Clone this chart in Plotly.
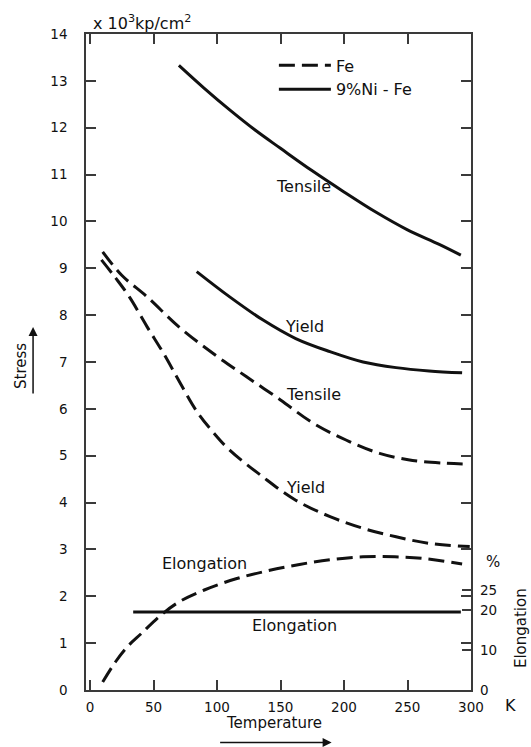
import plotly.graph_objects as go

# Temperature (K) and stress (x10^3 kp/cm^2) for pure iron
fe_tensile_T = [10, 25, 45, 70, 97, 123, 150, 176, 202, 228, 254, 280, 299]
fe_tensile = [9.35, 8.85, 8.39, 7.75, 7.18, 6.69, 6.19, 5.69, 5.33, 5.05, 4.90, 4.84, 4.82]
fe_yield_T = [9, 20, 31, 45, 58, 70, 84, 97, 110, 136, 162, 189, 215, 241, 267, 299]
fe_yield = [9.18, 8.80, 8.39, 7.75, 7.18, 6.60, 5.95, 5.50, 5.12, 4.55, 4.05, 3.70, 3.45, 3.27, 3.13, 3.06]

# Temperature (K) and stress for 9% Ni steel
ni_tensile_T = [70, 90, 110, 130, 150, 175, 200, 225, 250, 275, 292]
ni_tensile = [13.33, 12.84, 12.38, 11.95, 11.56, 11.08, 10.63, 10.20, 9.82, 9.51, 9.28]
ni_yield_T = [84, 110, 136, 162, 189, 215, 241, 267, 293]
ni_yield = [8.93, 8.39, 7.90, 7.50, 7.22, 7.00, 6.88, 6.81, 6.77]

# Elongation (%)
fe_elong_T = [10, 20, 30, 40, 55, 70, 90, 115, 140, 165, 190, 215, 240, 265, 293]
fe_elong = [2, 7, 11, 14, 18.5, 22, 25, 27.8, 29.8, 31.4, 32.6, 33.3, 33.3, 32.8, 31.5]
ni_elong_T = [34, 292]
ni_elong = [19.5, 19.5]

x_ticks = [0, 50, 100, 150, 200, 250, 300]
stress_ticks = list(range(0, 15))
elong_ticks = [0, 10, 20, 25]

FONT = "DejaVu Sans"
INK = "#111111"
AX = "#3a3a3a"
DASH = "16px,7px"
LW = 3

fig = go.Figure()

fig.add_trace(go.Scatter(x=fe_tensile_T, y=fe_tensile, mode="lines", name="Fe",
                         legendgroup="fe", showlegend=True,
                         line=dict(color=INK, width=LW, dash=DASH, shape="spline")))
fig.add_trace(go.Scatter(x=ni_tensile_T, y=ni_tensile, mode="lines", name="9%Ni - Fe",
                         legendgroup="ni", showlegend=True,
                         line=dict(color=INK, width=LW, shape="spline")))
fig.add_trace(go.Scatter(x=fe_yield_T, y=fe_yield, mode="lines", name="Fe",
                         legendgroup="fe", showlegend=False,
                         line=dict(color=INK, width=LW, dash=DASH, shape="spline")))
fig.add_trace(go.Scatter(x=ni_yield_T, y=ni_yield, mode="lines", name="9%Ni - Fe",
                         legendgroup="ni", showlegend=False,
                         line=dict(color=INK, width=LW, shape="spline")))
fig.add_trace(go.Scatter(x=fe_elong_T, y=fe_elong, mode="lines", name="Fe",
                         legendgroup="fe", showlegend=False, yaxis="y2",
                         line=dict(color=INK, width=LW, dash=DASH, shape="spline")))
fig.add_trace(go.Scatter(x=ni_elong_T, y=ni_elong, mode="lines", name="9%Ni - Fe",
                         legendgroup="ni", showlegend=False, yaxis="y2",
                         line=dict(color=INK, width=LW)))


def text_at(x, y, text, size=16, ref="data", angle=0, xa="center", ya="middle"):
    r = ("x", "y") if ref == "data" else ("paper", "paper")
    return dict(x=x, y=y, xref=r[0], yref=r[1], text=text, textangle=angle,
                xanchor=xa, yanchor=ya, showarrow=False,
                font=dict(family=FONT, size=size, color=INK))


annotations = [
    text_at(168, 10.75, "Tensile"),
    text_at(169, 7.75, "Yield"),
    text_at(176, 6.3, "Tensile"),
    text_at(170, 4.33, "Yield"),
    text_at(90, 2.69, "Elongation"),
    text_at(161, 1.38, "Elongation"),
    # unit label above the stress axis
    text_at(0.012, 1.018, "x 10<sup>3</sup>kp/cm<sup>2</sup>", ref="paper", xa="left"),
    text_at(1.1025, -0.023, "K", ref="paper"),
    text_at(1.056, 0.195, "%", size=15, ref="paper"),
    text_at(1.130, 0.0945, "Elongation", size=15, ref="paper", angle=-90),
    text_at(0.488, -0.05, "Temperature", size=15, ref="paper"),
    text_at(-0.1686, 0.494, "Stress", size=15, ref="paper", angle=-90),
    # direction arrows under the axis titles
    dict(x=0.638, y=-0.080, xref="paper", yref="paper", ax=-113, ay=0, text="",
         showarrow=True, arrowhead=2, arrowsize=1.2, arrowwidth=1.5, arrowcolor=INK),
    dict(x=-0.1375, y=0.5534, xref="paper", yref="paper", ax=0, ay=68, text="",
         showarrow=True, arrowhead=2, arrowsize=1.2, arrowwidth=1.5, arrowcolor=INK),
]

tickfont = dict(family=FONT, size=13.5, color="#111111")

fig.update_layout(
    width=531, height=747, autosize=False,
    margin=dict(l=86, r=59.5, t=34, b=57),
    paper_bgcolor="white", plot_bgcolor="white",
    showlegend=True,
    legend=dict(x=0.488, y=0.978, xanchor="left", yanchor="top",
                bgcolor="rgba(0,0,0,0)", borderwidth=0,
                font=dict(family=FONT, size=16, color=INK),
                tracegroupgap=0, itemwidth=52),
    xaxis=dict(range=[-3.15, 300], tickvals=x_ticks, ticks="inside", ticklen=10,
               tickwidth=1.5, tickcolor=AX, showline=True, linecolor=AX, linewidth=1.5,
               mirror="ticks", showgrid=False, zeroline=False, tickfont=tickfont,
               ticklabelstandoff=4),
    yaxis=dict(range=[0, 14], tickvals=stress_ticks, ticks="inside", ticklen=10,
               tickwidth=1.5, tickcolor=AX, showline=True, linecolor=AX, linewidth=1.5,
               mirror="ticks", showgrid=False, zeroline=False, tickfont=tickfont,
               ticklabelstandoff=14),
    yaxis2=dict(overlaying="y", side="right", range=[0, 164], tickvals=elong_ticks,
                ticks="inside", ticklen=9, tickwidth=1.5, tickcolor=AX, showline=False,
                showgrid=False, zeroline=False, tickfont=tickfont, ticklabelstandoff=8),
    annotations=annotations,
)

fig.write_html("out.html")
